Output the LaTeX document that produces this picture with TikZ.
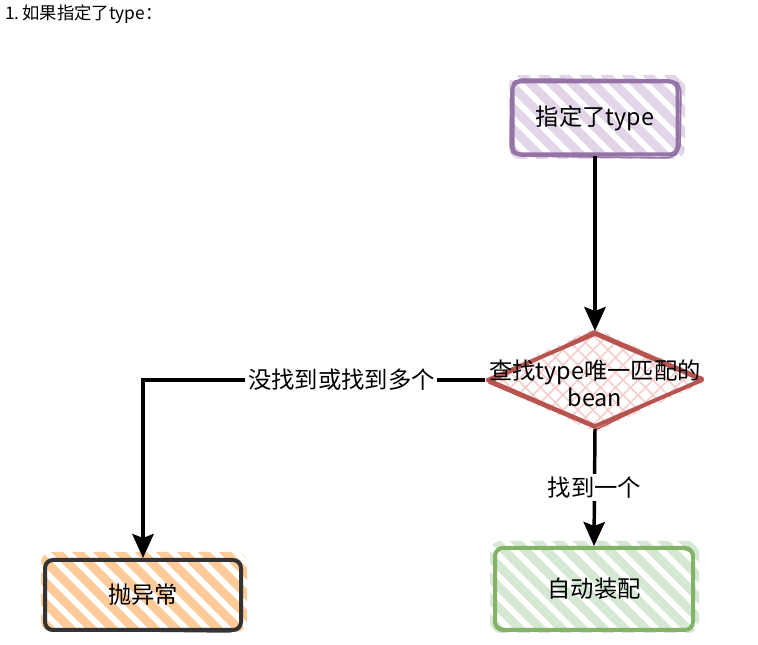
\documentclass[tikz,border=0pt]{standalone}
\usepackage{fontspec}
\setmainfont{Noto Sans CJK SC}
\usetikzlibrary{arrows.meta,shapes.geometric}

\definecolor{purpleline}{HTML}{9673A6}
\definecolor{purplefill}{HTML}{E1D5E7}
\definecolor{redline}{HTML}{B85450}
\definecolor{redfill}{HTML}{F6CDCA}
\definecolor{orangefill}{HTML}{FFCC99}
\definecolor{darkline}{HTML}{333333}
\definecolor{greenline}{HTML}{82B366}
\definecolor{greenfill}{HTML}{D5E8D4}

\tikzset{
  labeltext/.style={font=\fontsize{17.5}{20}\selectfont, text=black},
  boxnode/.style={rectangle, rounded corners=6pt, line width=3pt, inner sep=0pt, labeltext},
  decision/.style={diamond, inner sep=0pt, line width=3pt, draw=redline, line join=round},
  flow/.style={line width=2.6pt, draw=black, -{Stealth[length=18pt, width=16pt, inset=3pt]}},
  edgelabel/.style={labeltext, fill=white, inner sep=2pt},
  stripe/.style={line width=6.5pt, line cap=round},
  crossline/.style={line width=1.1pt, draw=redfill},
}

\begin{document}
\begin{tikzpicture}[x=0.75pt, y=-0.75pt]
  \useasboundingbox (0,0) rectangle (758,645);
  \fill[white] (0,0) rectangle (758,645);

  % heading
  \node[anchor=west, font=\fontsize{13}{15}\selectfont, inner sep=0pt] (title) at (5,14) {1.\,如果指定了type：};

  % striped fills, running a little past the outlines
  \begin{scope}
    \clip[rounded corners=8pt] (509,75) rectangle (685,159);
    \foreach \i in {-110,-89,...,200} \draw[stripe, purplefill] ({505+\i},74) -- ++(95,95);
  \end{scope}
  \begin{scope}
    \clip[rounded corners=8pt] (41,552) rectangle (247,632);
    \foreach \i in {-110,-89,...,240} \draw[stripe, orangefill] ({36+\i},547) -- ++(95,95);
  \end{scope}
  \begin{scope}
    \clip[rounded corners=8pt] (490,541) rectangle (699,633);
    \foreach \i in {-120,-99,...,240} \draw[stripe, greenfill] ({486+\i},538) -- ++(105,105);
  \end{scope}
  \begin{scope}
    \clip (482,380) -- (595,328) -- (710,380) -- (595,432) -- cycle;
    \foreach \i in {-120,-105,...,260} {
      \draw[crossline] ({480+\i},327) -- ++(110,110);
      \draw[crossline] ({480+\i},433) -- ++(110,-110);
    }
  \end{scope}

  % shapes
  \node[boxnode, draw=purpleline, minimum width=123.75pt, minimum height=54.75pt] (spec) at (595,118) {指定了type};
  \draw[purpleline, line width=1.2pt, rounded corners=5pt] (511,85) -- (517,79) -- (674,80) -- (681,86) -- (680,151) -- (672,158) -- (516,156) -- (510,150) -- cycle;

  \node[decision, minimum width=162pt, minimum height=70.5pt] (find) at (595,380) {};
  \draw[redline, line width=1.2pt, line join=round] (489,383) -- (594,331) -- (703,378) -- (597,429) -- cycle;
  \node[labeltext, align=center, font=\fontsize{17.5}{20.5}\selectfont] (findtext) at (595,383) {查找type唯一匹配的\\bean};

  \node[boxnode, draw=darkline, minimum width=147pt, minimum height=52.5pt] (exc) at (143,595) {抛异常};
  \draw[darkline, line width=1.2pt, rounded corners=5pt] (44,566) -- (50,559) -- (236,560) -- (242,566) -- (241,625) -- (235,632) -- (49,630) -- (45,624) -- cycle;

  \node[boxnode, draw=greenline, minimum width=148.5pt, minimum height=61.5pt] (auto) at (594,589) {自动装配};
  \draw[greenline, line width=1.2pt, rounded corners=5pt] (494,554) -- (500,547) -- (688,549) -- (694,555) -- (693,624) -- (687,631) -- (499,629) -- (495,623) -- cycle;

  % connectors
  \draw[flow] (spec) -- (find);
  \draw[flow] (find.west) -| node[edgelabel, pos=0.21] (misslabel) {没找到或找到多个} (exc.north);
  \draw[flow] (find.south) -- node[edgelabel] (hitlabel) {找到一个} (auto.north);
\end{tikzpicture}
\end{document}
